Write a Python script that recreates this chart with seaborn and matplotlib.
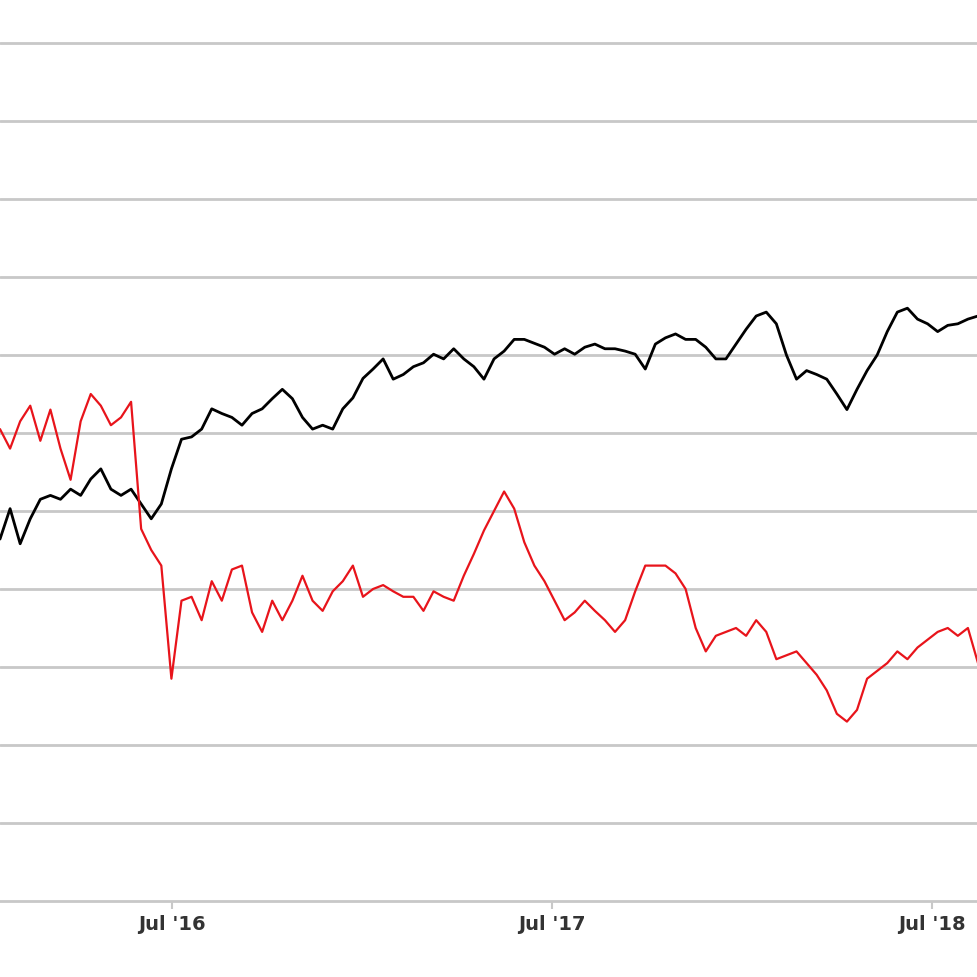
import matplotlib
matplotlib.use("Agg")
import matplotlib.pyplot as plt
import matplotlib.dates as mdates
import seaborn as sns
import pandas as pd

black_vals = [4.64,5.03,4.58,4.9,5.15,5.2,5.15,5.28,5.2,5.41,5.54,5.28,5.2,5.28,5.09,4.9,5.09,5.54,5.92,5.95,
              6.05,6.31,6.25,6.2,6.1,6.25,6.31,6.44,6.56,6.44,6.2,6.05,6.1,6.05,6.31,6.45,6.7,6.82,6.95,6.69,
              6.75,6.85,6.9,7.01,6.95,7.08,6.95,6.85,6.69,6.95,7.05,7.2,7.2,7.15,7.1,7.01,7.08,7.01,7.1,7.14,
              7.08,7.08,7.05,7.01,6.82,7.14,7.22,7.27,7.2,7.2,7.1,6.95,6.95,7.14,7.33,7.5,7.55,7.4,7.0,6.69,
              6.8,6.75,6.69,6.5,6.3,6.56,6.8,7.0,7.3,7.55,7.6,7.46,7.4,7.3,7.38,7.4,7.46,7.5]
red_vals = [6.05,5.8,6.15,6.35,5.9,6.3,5.8,5.4,6.15,6.5,6.35,6.1,6.2,6.4,4.77,4.5,4.3,2.85,3.85,3.9,
            3.6,4.1,3.85,4.25,4.3,3.7,3.45,3.85,3.6,3.85,4.17,3.85,3.72,3.97,4.1,4.3,3.9,4.0,4.05,3.97,
            3.9,3.9,3.72,3.97,3.9,3.85,4.17,4.45,4.75,5.0,5.25,5.03,4.6,4.3,4.1,3.85,3.6,3.7,3.85,3.72,
            3.6,3.45,3.6,3.97,4.3,4.3,4.3,4.2,4.0,3.5,3.2,3.4,3.45,3.5,3.4,3.6,3.45,3.1,3.15,3.2,
            3.05,2.9,2.7,2.4,2.3,2.45,2.85,2.95,3.05,3.2,3.1,3.25,3.35,3.45,3.5,3.4,3.5,3.05]
start_date, end_date = "2016-01-18", "2018-08-14"
tick_dates = ["2016-07-01", "2017-07-01", "2018-07-01"]
tick_labels = ["Jul '16", "Jul '17", "Jul '18"]

dates = pd.date_range(start_date, end_date, periods=len(black_vals))
df = pd.DataFrame({"date": dates, "black": black_vals, "red": red_vals})

sns.set_theme(style="white")
fig = plt.figure(figsize=(9.78, 9.78), dpi=100)
ax = fig.add_axes([0, 76/978, 1, 902/978])
sns.lineplot(data=df, x="date", y="black", color="black", lw=2, ax=ax)
sns.lineplot(data=df, x="date", y="red", color="#e8141b", lw=1.6, ax=ax)
ax.set_xlim(pd.Timestamp(start_date), pd.Timestamp(end_date))
ax.set_ylim(0, 902/78)
ax.set_yticks(range(1, 12))
ax.yaxis.grid(True, color="#c8c8c8", lw=2)
ax.tick_params(axis="y", left=False, labelleft=False)
ax.set_xticks(pd.to_datetime(tick_dates))
ax.set_xticklabels(tick_labels, fontsize=14, fontweight="bold", color="#333333")
ax.tick_params(axis="x", bottom=True, length=6, color="#c8c8c8", width=1.5)
for s in ["top", "left", "right"]:
    ax.spines[s].set_visible(False)
ax.spines["bottom"].set_color("#c8c8c8")
ax.spines["bottom"].set_linewidth(2)
ax.set_xlabel(""); ax.set_ylabel("")
fig.savefig("out.png", dpi=100)
